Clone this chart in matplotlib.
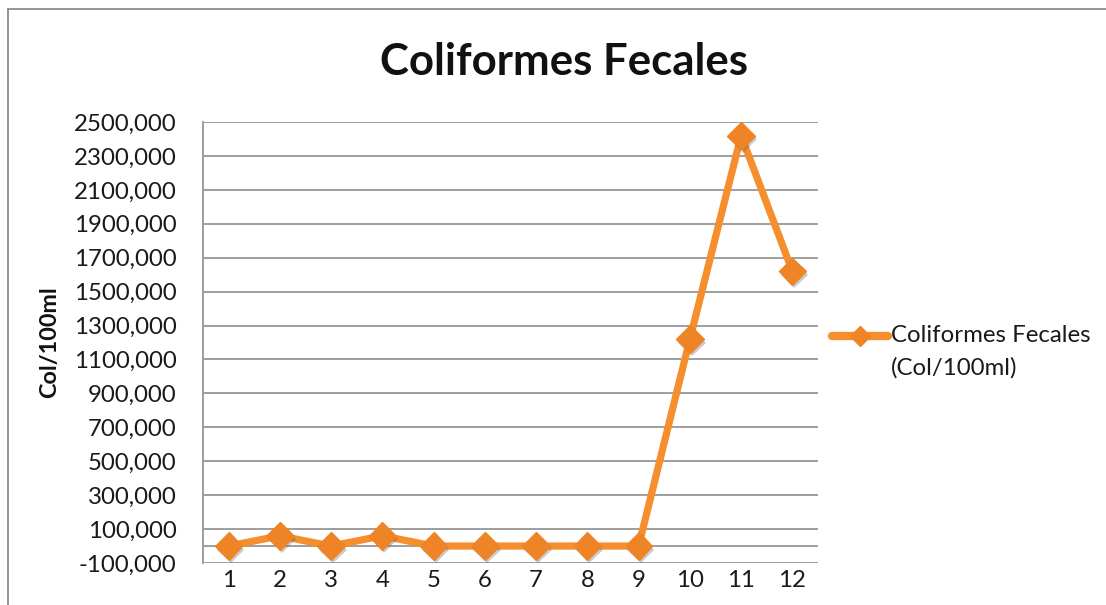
import matplotlib
matplotlib.use("Agg")
import matplotlib.pyplot as plt
from matplotlib.lines import Line2D
import matplotlib.patheffects as pe

plt.rcParams['font.family'] = ['Lato', 'DejaVu Sans']

categories = [1, 2, 3, 4, 5, 6, 7, 8, 9, 10, 11, 12]
values = [0, 60000, 0, 60000, 0, 0, 0, 0, 0, 1220000, 2420000, 1620000]
yticks = [-100000, 100000, 300000, 500000, 700000, 900000, 1100000, 1300000,
          1500000, 1700000, 1900000, 2100000, 2300000, 2500000]
ytick_labels = ["-100,000", "100,000", "300,000", "500,000", "700,000", "900,000",
                "1100,000", "1300,000", "1500,000", "1700,000", "1900,000",
                "2100,000", "2300,000", "2500,000"]
title = "Coliformes Fecales"
ylabel = "Col/100ml"
legend_label = "Coliformes Fecales\n(Col/100ml)"

ORANGE = '#F58F2E'
MARK = '#EE8426'
GRID = '#9E9E9E'

fig = plt.figure(figsize=(11.06, 6.05), dpi=100)
ax = fig.add_axes([203/1106, 1-563/605, (818-203)/1106, (563-122)/605])

ax.set_xlim(0.5, 12.5)
ax.set_ylim(-100000, 2500000)
ax.set_yticks(yticks)
ax.set_yticklabels(ytick_labels)
ax.set_xticks(categories)
ax.set_xticklabels([str(c) for c in categories])

for y in yticks:
    ax.axhline(y, color=GRID, lw=1.4, zorder=1)
ax.axhline(0, color=GRID, lw=1.4, zorder=1)

for s in ['top', 'right', 'bottom']:
    ax.spines[s].set_visible(False)
ax.spines['left'].set_color(GRID)
ax.spines['left'].set_linewidth(1.4)

ax.tick_params(axis='y', length=0, pad=19, labelsize=17.3, labelcolor='#1a1a1a')
ax.tick_params(axis='x', length=0, pad=5, labelsize=17.3, labelcolor='#1a1a1a')

ax.plot(categories, values, color=ORANGE, lw=5.2, solid_joinstyle='miter', zorder=3)
ax.plot(categories, values, linestyle='none', marker='D', markersize=14,
        markerfacecolor=MARK, markeredgecolor=MARK, zorder=4,
        path_effects=[pe.SimplePatchShadow(offset=(1.5, -2.5), shadow_rgbFace='#555555', alpha=0.3),
                      pe.Normal()])

fig.text(564/1106, 1-62/605, title, ha='center', va='center', fontsize=31.5,
         fontweight='bold', color='#111111')
fig.text(50/1106, 1-342/605, ylabel, ha='center', va='center', rotation=90,
         fontsize=16.8, fontweight='bold', color='#111111')

# legend drawn manually
lx0, lx1, ly = 832/1106, 888/1106, 1-336/605
fig.add_artist(Line2D([lx0, lx1], [ly, ly], color=ORANGE, lw=6,
                      solid_capstyle='round', transform=fig.transFigure))
fig.add_artist(Line2D([(lx0+lx1)/2], [ly], marker='D', markersize=10,
                      markerfacecolor=MARK, markeredgecolor=MARK,
                      linestyle='none', transform=fig.transFigure))
fig.text(891/1106, ly, "Coliformes Fecales", ha='left', va='center',
         fontsize=17.3, color='#1a1a1a')
fig.text(891/1106, 1-368/605, "(Col/100ml)", ha='left', va='center',
         fontsize=17.3, color='#1a1a1a')

# outer frame (top and left only visible)
fig.add_artist(Line2D([8/1106, 1], [1-9/605, 1-9/605], color='#8c8c8c', lw=1.3,
                      transform=fig.transFigure))
fig.add_artist(Line2D([8/1106, 8/1106], [0, 1-9/605], color='#8c8c8c', lw=1.3,
                      transform=fig.transFigure))

fig.savefig('out.png', dpi=100)
